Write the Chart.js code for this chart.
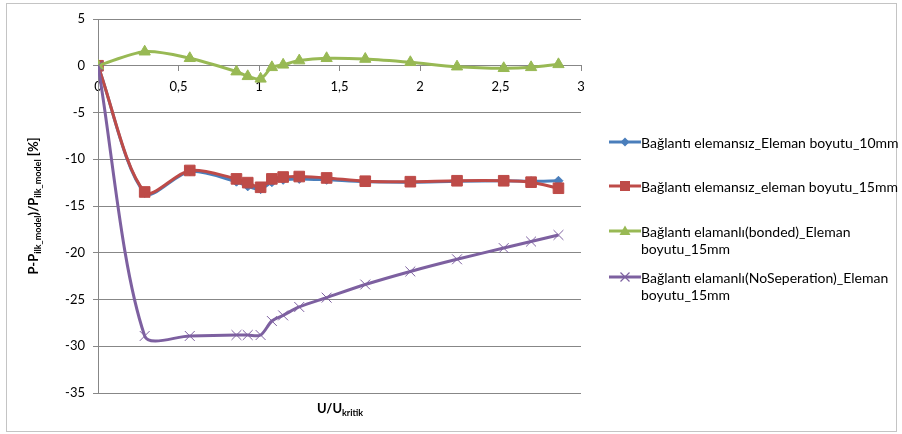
<!DOCTYPE html>
<html lang="tr">
<head>
<meta charset="UTF-8">
<title>P-P ilk model</title>
<script src="https://cdn.jsdelivr.net/npm/chart.js"></script>
<style>
    body {
        margin: 0;
        background: #fff;
        font-family: Lato, sans-serif;
    }

    .wrap {
        position: relative;
        width: 902px;
        height: 434px;
    }

    .frame {
        position: absolute;
        left: 6px;
        top: 3px;
        width: 891px;
        height: 429px;
        border: 1px solid #c4c4c4;
        box-sizing: border-box;
    }

    #chart {
        position: absolute;
        left: 0;
        top: 0;
    }

    .legend {
        position: absolute;
        left: 609px;
        top: 0;
        font-size: 14px;
        color: #000;
    }

    .item {
        position: absolute;
        left: 0;
        white-space: nowrap;
        line-height: 17px;
        display: flex;
    }

    .item svg {
        flex: none;
        margin-top: 2px;
    }
</style>
</head>
<body>
<div class="wrap">
    <div class="frame"></div>
    <canvas id="chart" width="902" height="434"></canvas>
    <div class="legend">
        <div class="item" style="top:134px">
            <svg width="32" height="12"><line x1="0" y1="6" x2="32" y2="6" stroke="#4a7ebb" stroke-width="3"/><polygon points="16,1.5 20.5,6 16,10.5 11.5,6" fill="#4a7ebb"/></svg>
            <span>Bağlantı elemansız_Eleman boyutu_10mm</span>
        </div>
        <div class="item" style="top:178px">
            <svg width="32" height="12"><line x1="0" y1="6" x2="32" y2="6" stroke="#be4b48" stroke-width="3"/><rect x="11" y="1" width="10" height="10" fill="#be4b48"/></svg>
            <span>Bağlantı elemansız_eleman boyutu_15mm</span>
        </div>
        <div class="item" style="top:223px">
            <svg width="32" height="12"><line x1="0" y1="6" x2="32" y2="6" stroke="#98b954" stroke-width="3"/><polygon points="16,0.5 21.5,10 10.5,10" fill="#98b954"/></svg>
            <span>Bağlantı elamanlı(bonded)_Eleman<br>boyutu_15mm</span>
        </div>
        <div class="item" style="top:269px">
            <svg width="32" height="12"><line x1="0" y1="6" x2="32" y2="6" stroke="#7d60a0" stroke-width="3"/><path d="M11.5,1.5 L20.5,10.5 M20.5,1.5 L11.5,10.5" stroke="#7d60a0" stroke-width="1.2"/></svg>
            <span>Bağlantı elamanlı(NoSeperation)_Eleman<br>boyutu_15mm</span>
        </div>
    </div>
</div>

<script>
    // U/U_kritik values (same for all series)
    const uRatio = [0, 0.29, 0.57, 0.86, 0.93, 1.01, 1.08, 1.15, 1.25, 1.42, 1.66, 1.94, 2.23, 2.52, 2.69, 2.86];

    const seriesNames = [
        'Bağlantı elemansız_Eleman boyutu_10mm',
        'Bağlantı elemansız_eleman boyutu_15mm',
        'Bağlantı elamanlı(bonded)_Eleman boyutu_15mm',
        'Bağlantı elamanlı(NoSeperation)_Eleman boyutu_15mm'
    ];

    const elemansiz10 = [0, -13.6, -11.3, -12.4, -12.9, -13.2, -12.45, -12.2, -12.1, -12.2, -12.4, -12.45, -12.35, -12.3, -12.35, -12.3];
    const elemansiz15 = [0, -13.5, -11.2, -12.1, -12.5, -13.0, -12.1, -11.9, -11.85, -12.0, -12.35, -12.4, -12.3, -12.3, -12.45, -13.1];
    const bonded15 = [0, 1.5, 0.8, -0.63, -1.13, -1.4, -0.17, 0.1, 0.55, 0.8, 0.72, 0.37, -0.1, -0.27, -0.17, 0.15];
    const noSep15 = [0, -28.9, -28.9, -28.8, -28.8, -28.8, -27.3, -26.7, -25.8, -24.8, -23.4, -22.0, -20.7, -19.5, -18.8, -18.1];

    const xTicks = [0, 0.5, 1, 1.5, 2, 2.5, 3];
    const yTicks = [5, 0, -5, -10, -15, -20, -25, -30, -35];

    const gridColor = '#878787';
    const tickFont = { family: 'Lato', size: 13 };

    function toPoints(ys) {
        return uRatio.map((x, i) => ({ x: x, y: ys[i] }));
    }

    function makeSet(i, ys, color, style, radius, order) {
        return {
            label: seriesNames[i],
            data: toPoints(ys),
            borderColor: color,
            backgroundColor: color,
            borderWidth: 3,
            pointStyle: style,
            pointRadius: radius,
            pointBorderWidth: 1,
            pointBackgroundColor: color,
            pointBorderColor: color,
            tension: 0.3,
            order: order
        };
    }

    // draws the axis titles with subscripts
    function drawRich(ctx, parts, x, y) {
        let w = 0;
        parts.forEach(p => {
            ctx.font = 'bold ' + p.size + 'px Lato';
            w += ctx.measureText(p.t).width;
        });
        let cx = x - w / 2;
        parts.forEach(p => {
            ctx.font = 'bold ' + p.size + 'px Lato';
            ctx.fillText(p.t, cx, y + (p.sub ? 3 : 0));
            cx += ctx.measureText(p.t).width;
        });
    }

    const titlesPlugin = {
        id: 'titles',
        afterDraw(chart) {
            const ctx = chart.ctx;
            ctx.save();
            ctx.fillStyle = '#000';
            ctx.textBaseline = 'alphabetic';
            ctx.textAlign = 'left';
            drawRich(ctx, [
                { t: 'U/U', size: 13 },
                { t: 'kritik', size: 9, sub: true }
            ], 340, 413);

            ctx.translate(38, 206);
            ctx.rotate(-Math.PI / 2);
            drawRich(ctx, [
                { t: 'P-P', size: 13 },
                { t: 'ilk_model', size: 9, sub: true },
                { t: ')/P', size: 13 },
                { t: 'ilk_model', size: 9, sub: true },
                { t: ' [%]', size: 13 }
            ], 0, 0);
            ctx.restore();
        }
    };

    new Chart(document.getElementById('chart'), {
        type: 'line',
        data: {
            datasets: [
                makeSet(0, elemansiz10, '#4a7ebb', 'rectRot', 4.5, 4),
                makeSet(1, elemansiz15, '#be4b48', 'rect', 7.5, 3),
                makeSet(2, bonded15, '#98b954', 'triangle', 6.5, 2),
                makeSet(3, noSep15, '#7d60a0', 'crossRot', 7, 1)
            ]
        },
        options: {
            responsive: false,
            animation: false,
            devicePixelRatio: 1,
            layout: { padding: { left: 0, top: 19, right: 321, bottom: 41 } },
            plugins: {
                legend: { display: false },
                tooltip: { enabled: false }
            },
            scales: {
                x: {
                    type: 'linear',
                    position: { y: 0 },
                    min: 0,
                    max: 3,
                    afterBuildTicks: (scale) => {
                        scale.ticks = xTicks.map(v => ({ value: v }));
                    },
                    ticks: {
                        font: tickFont,
                        color: '#000',
                        padding: 8,
                        maxRotation: 0,
                        callback: (v) => String(v).replace('.', ',')
                    },
                    grid: {
                        drawOnChartArea: false,
                        drawTicks: true,
                        tickLength: 5,
                        color: gridColor
                    },
                    border: { color: gridColor }
                },
                y: {
                    type: 'linear',
                    min: -35,
                    max: 5,
                    afterBuildTicks: (scale) => {
                        scale.ticks = yTicks.map(v => ({ value: v }));
                    },
                    afterFit: (scale) => {
                        scale.width = 98;
                    },
                    ticks: {
                        font: tickFont,
                        color: '#000',
                        padding: 8
                    },
                    grid: {
                        color: gridColor,
                        tickLength: 5
                    },
                    border: { color: gridColor }
                }
            }
        },
        plugins: [titlesPlugin]
    });
</script>
</body>
</html>
